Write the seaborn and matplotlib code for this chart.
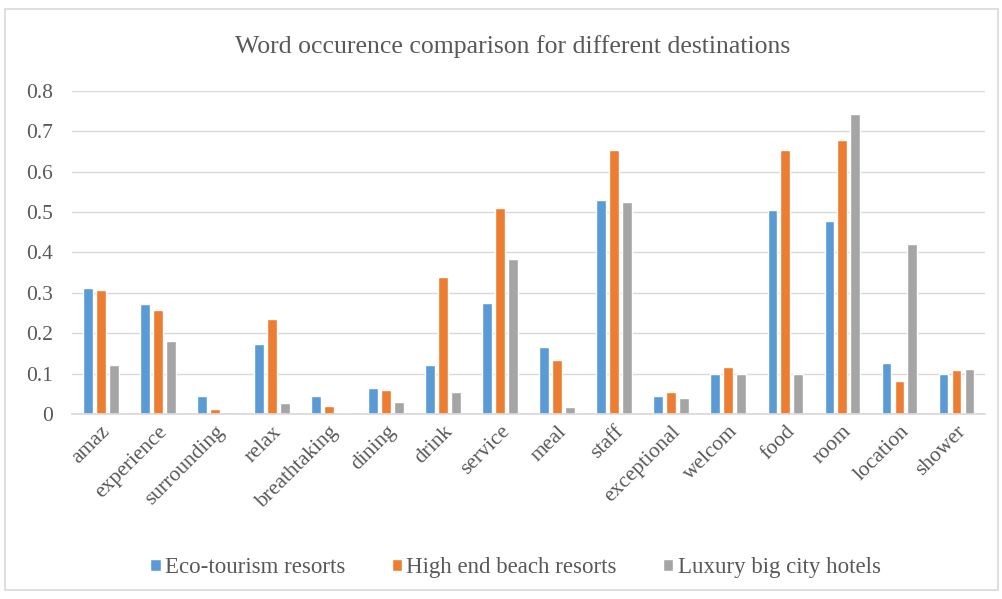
import pandas as pd
import matplotlib
matplotlib.use("Agg")
import matplotlib.pyplot as plt
from matplotlib.patches import Rectangle
import seaborn as sns

# data
words = ["amaz", "experience", "surrounding", "relax", "breathtaking", "dining",
         "drink", "service", "meal", "staff", "exceptional", "welcom", "food",
         "room", "location", "shower"]
eco = [0.312, 0.272, 0.044, 0.172, 0.044, 0.063, 0.121, 0.275, 0.165, 0.531,
       0.044, 0.098, 0.505, 0.478, 0.125, 0.100]
beach = [0.307, 0.257, 0.013, 0.236, 0.019, 0.059, 0.340, 0.510, 0.133, 0.655,
         0.054, 0.117, 0.655, 0.679, 0.081, 0.108]
city = [0.122, 0.180, 0.005, 0.027, 0.003, 0.029, 0.054, 0.385, 0.017, 0.526,
        0.040, 0.100, 0.100, 0.742, 0.420, 0.112]
series = ["Eco-tourism resorts", "High end beach resorts", "Luxury big city hotels"]
colors = ["#5B9BD5", "#ED7D31", "#A5A5A5"]

df = pd.DataFrame({
    "word": words * 3,
    "value": eco + beach + city,
    "group": [s for s in series for _ in words],
})

sns.set_theme(style="white")
plt.rcParams["font.family"] = ["Liberation Serif", "DejaVu Serif"]
text_col = "#595959"

fig = plt.figure(figsize=(10.03, 5.99), dpi=100)
ax = fig.add_axes([0.072, 0.309, 0.910, 0.539])

sns.barplot(data=df, x="word", y="value", hue="group", palette=colors,
            width=0.68, gap=0.25, ax=ax, saturation=1, legend=True)

ax.set_ylim(0, 0.8)
ax.set_yticks([0, 0.1, 0.2, 0.3, 0.4, 0.5, 0.6, 0.7, 0.8])
ax.set_yticklabels(["0", "0.1", "0.2", "0.3", "0.4", "0.5", "0.6", "0.7", "0.8"],
                   fontsize=15.5, color=text_col)
ax.set_xticks(range(len(words)))
ax.set_xticklabels(words, rotation=45, ha="right", rotation_mode="anchor",
                   fontsize=15.5, color=text_col)
ax.tick_params(axis="y", length=0, pad=14)
ax.tick_params(axis="x", length=0, pad=6)
ax.set_xlabel("")
ax.set_ylabel("")
ax.yaxis.grid(True, color="#D9D9D9", linewidth=1)
ax.set_axisbelow(True)
for side in ["top", "right", "left"]:
    ax.spines[side].set_visible(False)
ax.spines["bottom"].set_color("#D9D9D9")

# chart title is centred over the whole chart area
fig.text(0.511, 0.922, "Word occurence comparison for different destinations",
         ha="center", va="center", fontsize=18.5, color=text_col)

handles, labels = ax.get_legend_handles_labels()
ax.legend_.remove()
fig.legend(handles, labels, loc="center", bbox_to_anchor=(0.514, 0.052), ncol=3,
           frameon=False, fontsize=16.5, handlelength=0.45, handleheight=0.45,
           handletextpad=0.2, columnspacing=2.0, labelcolor=text_col)

# light frame around the chart, as in the original
fig.patches.append(Rectangle((0.005, 0.015), 0.99, 0.97, transform=fig.transFigure,
                             fill=False, edgecolor="#D9D9D9", linewidth=1.2))

fig.savefig("out.png", dpi=100)
